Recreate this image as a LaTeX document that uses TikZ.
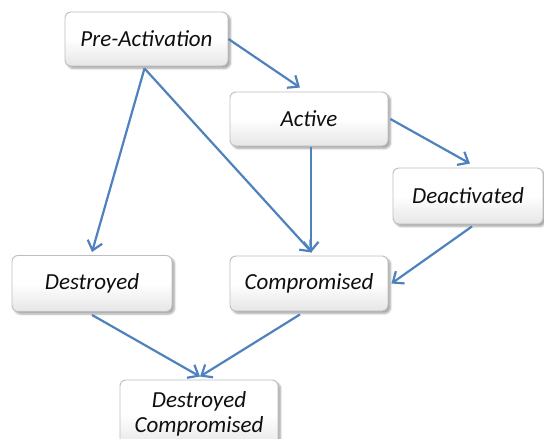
\documentclass[tikz,border=0pt]{standalone}
\usepackage{fontspec}
\setmainfont{Carlito}
\usetikzlibrary{arrows.meta,shadows.blur,calc}
\definecolor{edgeblue}{RGB}{79,129,189}
\definecolor{boxline}{RGB}{190,190,190}
\definecolor{labeltext}{RGB}{15,15,15}
\tikzset{
  statebox/.style={draw=boxline, line width=0.9pt, rounded corners=6pt,
    top color=white, bottom color=black!10, middle color=white,
    blur shadow={shadow xshift=2.5pt, shadow yshift=-2.5pt, shadow blur steps=6, shadow opacity=35},
    font=\fontsize{23}{26}\selectfont\itshape, text=labeltext, align=center,
    inner sep=0pt},
  flow/.style={draw=edgeblue, line width=2.2pt,
    -{Straight Barb[length=9pt,width=15pt]}}
}
\begin{document}
\begin{tikzpicture}[x=1pt,y=-1pt]
  \useasboundingbox (0,0) rectangle (544,439);
  % states
  \node[statebox, minimum width=163pt, minimum height=54pt] (pre)  at (146.5,39)  {Pre-Activation};
  \node[statebox, minimum width=158pt, minimum height=54pt] (act)  at (309,119)   {Active};
  \node[statebox, minimum width=150pt, minimum height=56pt] (deac) at (468,196)   {Deactivated};
  \node[statebox, minimum width=160pt, minimum height=56pt] (des)  at (92,283.5)  {Destroyed};
  \node[statebox, minimum width=158pt, minimum height=55pt] (comp) at (309,283.5) {Compromised};
  \node[statebox, minimum width=158pt, minimum height=68pt] (dc)   at (199,414)   {Destroyed\\[-1pt]Compromised};
  % transitions
  \draw[flow] (pre.east) -- ([xshift=-9pt,yshift=4pt]act.north);
  \draw[flow] ([xshift=-2pt,yshift=-2pt]pre.south) -- ([yshift=3pt]des.north);
  \draw[flow] ([xshift=-2pt,yshift=-2pt]pre.south) -- ([xshift=3pt,yshift=3pt]comp.north);
  \draw[flow] ([xshift=2pt,yshift=-1pt]act.south) -- ([xshift=2pt,yshift=3pt]comp.north);
  \draw[flow] ([xshift=2pt]act.east) -- ([xshift=2pt,yshift=4pt]deac.north);
  \draw[flow] ([xshift=4pt,yshift=-2pt]deac.south) -- ([xshift=3pt]comp.east);
  \draw[flow] ([yshift=-3pt]des.south) -- ([xshift=1pt,yshift=3pt]dc.north);
  \draw[flow] ([xshift=-9pt,yshift=-3pt]comp.south) -- ([xshift=1pt,yshift=3pt]dc.north);
\end{tikzpicture}
\end{document}
